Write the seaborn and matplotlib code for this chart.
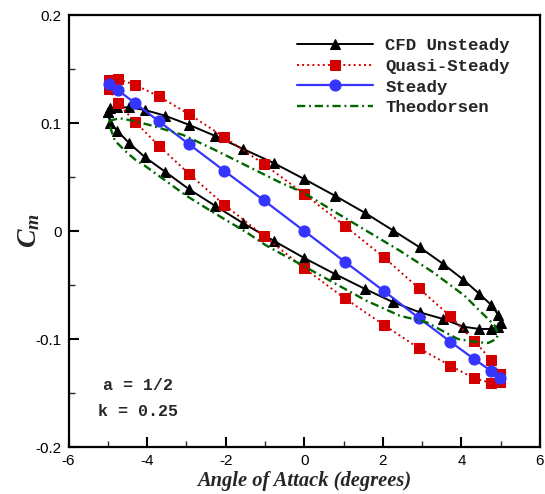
import matplotlib
matplotlib.use("Agg")
import matplotlib.pyplot as plt
import seaborn as sns
import numpy as np

# ---------------- data ----------------
# CFD Unsteady: upper branch (alpha increasing) then lower branch (alpha decreasing)
cfd_alpha = [-5.0, -4.94, -4.76, -4.46, -4.05, -3.54, -2.94, -2.27, -1.55, -0.78, 0.0,
             0.78, 1.55, 2.27, 2.94, 3.54, 4.05, 4.46, 4.76, 4.94, 5.0,
             4.94, 4.76, 4.46, 4.05, 3.54, 2.94, 2.27, 1.55, 0.78, 0.0,
             -0.78, -1.55, -2.27, -2.94, -3.54, -4.05, -4.46, -4.76, -4.94, -5.0]
cfd_cm = [0.1102, 0.1136, 0.1144, 0.1145, 0.1120, 0.1068, 0.0984, 0.0881, 0.0759, 0.0630, 0.0481,
          0.0327, 0.0167, 0.0003, -0.0151, -0.0306, -0.0451, -0.0583, -0.0685, -0.0778, -0.0852,
          -0.0889, -0.0907, -0.0907, -0.0886, -0.0815, -0.0753, -0.0660, -0.0537, -0.0398, -0.0250,
          -0.0090, 0.0071, 0.0234, 0.0389, 0.0549, 0.0682, 0.0815, 0.0929, 0.1000, 0.1102]

# Quasi-Steady
qs_alpha = [4.97, 4.76, 4.32, 3.72, 2.92, 2.03, 1.03, 0.0, -1.03, -2.03, -2.93, -3.70, -4.31, -4.75, -4.97,
            -4.97, -4.75, -4.31, -3.70, -2.93, -2.03, -1.03, 0.0, 1.03, 2.03, 2.92, 3.72, 4.32, 4.76, 4.97, 4.97]
qs_cm = [-0.1324, -0.1194, -0.1016, -0.0790, -0.0531, -0.0244, 0.0049, 0.0343, 0.0620, 0.0868, 0.1081,
         0.1247, 0.1355, 0.1407, 0.1401,
         0.1315, 0.1185, 0.1012, 0.0790, 0.0528, 0.0241, -0.0044, -0.0345, -0.0623, -0.0870, -0.1086,
         -0.1247, -0.1364, -0.1407, -0.1401, -0.1324]

# Steady
st_alpha = [-4.97, -4.75, -4.31, -3.70, -2.93, -2.03, -1.03, 0.0, 1.03, 2.03, 2.92, 3.72, 4.32, 4.76, 4.97]
st_cm = [0.1361, 0.1306, 0.1185, 0.1016, 0.0803, 0.0556, 0.0284, 0.0, -0.0284, -0.0556, -0.0806,
         -0.1025, -0.1185, -0.1296, -0.1364]

# Theodorsen
th_alpha = [-4.97, -4.69, -4.36, -3.93, -3.08, -2.32, -1.47, -0.62, -0.03, 0.73, 1.58, 2.43, 3.28,
            4.08, 4.42, 4.68, 4.85, 4.93,
            4.89, 4.68, 4.47, 4.17, 3.91, 3.11, 2.43, 1.58, 0.73, -0.03, -0.96, -1.47, -2.32, -3.00,
            -4.06, -4.27, -4.52, -4.69, -4.82, -4.91, -4.97]
th_cm = [0.1021, 0.1044, 0.1021, 0.0981, 0.0889, 0.0759, 0.0605, 0.0451, 0.0358, 0.0188, 0.0003,
         -0.0182, -0.0382, -0.0599, -0.0722, -0.0815, -0.0877, -0.0954,
         -0.1000, -0.1037, -0.1031, -0.1016, -0.1000, -0.0845, -0.0784, -0.0645, -0.0475, -0.0321,
         -0.0136, -0.0012, 0.0173, 0.0327, 0.0605, 0.0651, 0.0729, 0.0790, 0.0836, 0.0929, 0.1021]

labels = ["CFD Unsteady", "Quasi-Steady", "Steady", "Theodorsen"]
xticks = [-6, -4, -2, 0, 2, 4, 6]
yticks = [-0.2, -0.1, 0, 0.1, 0.2]
ytick_labels = ["-0.2", "-0.1", "0", "0.1", "0.2"]

# ---------------- styling ----------------
sns.set_theme(style="white")
plt.rcParams["font.family"] = ["Liberation Sans", "DejaVu Sans"]
plt.rcParams["mathtext.fontset"] = "custom"
plt.rcParams["mathtext.it"] = "Liberation Serif:italic:bold"
plt.rcParams["mathtext.rm"] = "Liberation Serif:bold"

fig = plt.figure(figsize=(5.45, 4.94), dpi=100)
ax = fig.add_axes([0.1257, 0.0951, 0.8651, 0.8745])

red = "#d40000"
blue = "#3535ff"
green = "#006600"

sns.lineplot(x=cfd_alpha, y=cfd_cm, sort=False, estimator=None, ax=ax, color="black",
             lw=1.4, marker="^", markersize=7.5, markeredgecolor="black", label=labels[0])
sns.lineplot(x=qs_alpha, y=qs_cm, sort=False, estimator=None, ax=ax, color=red,
             lw=1.4, marker="s", markersize=6.5, markeredgecolor=red, label=labels[1])
ax.lines[-1].set_linestyle(":")
sns.lineplot(x=st_alpha, y=st_cm, sort=False, estimator=None, ax=ax, color=blue,
             lw=1.6, marker="o", markersize=8, markeredgecolor=blue, label=labels[2])
sns.lineplot(x=th_alpha, y=th_cm, sort=False, estimator=None, ax=ax, color=green,
             lw=1.7, label=labels[3])
ax.lines[-1].set_dashes([3.5, 1.6, 0.8, 1.6])

ax.set_xlim(-6, 6)
ax.set_ylim(-0.2, 0.2)
ax.set_xticks(xticks)
ax.set_xticklabels([str(t) for t in xticks])
ax.set_yticks(yticks)
ax.set_yticklabels(ytick_labels)
ax.set_xticks(np.arange(-6, 6.01, 1), minor=True)
ax.set_yticks(np.arange(-0.2, 0.201, 0.05), minor=True)
ax.tick_params(which="major", direction="in", length=7.5, width=1.5, labelsize=11,
               top=False, right=False, left=True, bottom=True, pad=5, colors="black")
ax.tick_params(which="minor", direction="in", length=4.5, width=1.0,
               top=False, right=False, left=True, bottom=True)
for s in ax.spines.values():
    s.set_color("black")
    s.set_linewidth(1.6)

ax.set_xlabel("Angle of Attack (degrees)", family="Liberation Serif", weight="bold",
              style="italic", fontsize=14.8, labelpad=2)
ax.set_ylabel(r"$C_m$", fontsize=20, labelpad=-5)

leg = ax.legend(loc="upper left", bbox_to_anchor=(0.484, 0.946), frameon=False,
                borderpad=0, borderaxespad=0, handlelength=4.4, handletextpad=0.7,
                labelspacing=0.31, prop={"family": "Liberation Mono", "weight": "bold", "size": 12.5})

ax.text((103 - 304.5) / 39.3, (232 - 386) / 1080, "a = 1/2", family="Liberation Mono",
        weight="bold", fontsize=12, va="center", ha="left")
ax.text((98 - 304.5) / 39.3, (232 - 412) / 1080, "k = 0.25", family="Liberation Mono",
        weight="bold", fontsize=12, va="center", ha="left")

fig.savefig("out.png", dpi=100)
